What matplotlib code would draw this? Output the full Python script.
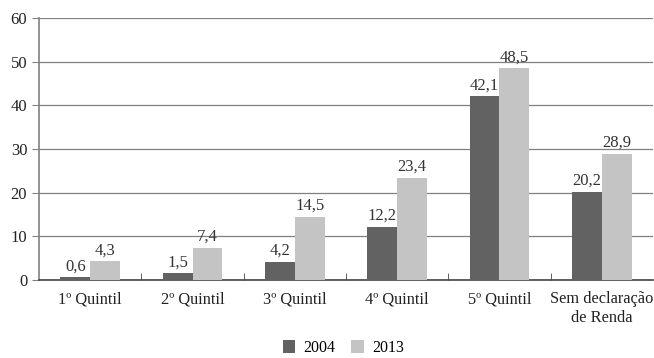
import matplotlib
matplotlib.use("Agg")
import matplotlib.pyplot as plt
import numpy as np

categories = ["1º Quintil", "2º Quintil", "3º Quintil", "4º Quintil", "5º Quintil", "Sem declaração\nde Renda"]
v2004 = [0.6, 1.5, 4.2, 12.2, 42.1, 20.2]
v2013 = [4.3, 7.4, 14.5, 23.4, 48.5, 28.9]
series_names = ["2004", "2013"]

plt.rcParams['font.family'] = ['Liberation Serif', 'DejaVu Serif']

fig = plt.figure(figsize=(6.54, 3.58), dpi=100)
ax = fig.add_axes([39/654, 1-280/358, 1-39/654-1/654, (280-18)/358])

x = np.arange(len(categories))
w = 0.29
c1, c2 = "#626262", "#c4c4c4"
b1 = ax.bar(x - w/2, v2004, w, color=c1, label=series_names[0], zorder=3)
b2 = ax.bar(x + w/2, v2013, w, color=c2, label=series_names[1], zorder=3)

def fmt(v):
    return f"{v:.1f}".replace(".", ",")

for bars, vals in ((b1, v2004), (b2, v2013)):
    for r, v in zip(bars, vals):
        ax.annotate(fmt(v), (r.get_x() + r.get_width()/2, v), xytext=(0, 2),
                    textcoords="offset points", ha="center", va="bottom",
                    fontsize=12, color="#333333")

ax.set_xlim(-0.5, len(categories) - 0.5)
ax.set_ylim(0, 60)
ax.set_yticks(range(0, 61, 10))
ax.yaxis.grid(True, color="#808080", linewidth=0.9, zorder=0)
ax.set_axisbelow(True)
ax.set_xticks(x)
ax.set_xticklabels(categories, fontsize=11.8, color="#222222")
ax.set_xticks(np.arange(0.5, len(categories) - 0.5, 1), minor=True)
ax.tick_params(axis="x", which="major", length=0, pad=8)
ax.tick_params(axis="x", which="minor", length=5, direction="in", color="#444444")
ax.tick_params(axis="y", length=5, color="#808080", labelsize=12, labelcolor="#222222")
for s in ["top", "right"]:
    ax.spines[s].set_visible(False)
ax.spines["left"].set_color("#808080")
ax.spines["bottom"].set_color("#444444")
ax.spines["left"].set_linewidth(1.2)
ax.spines["bottom"].set_linewidth(1.2)

fig.legend(handles=[b1, b2], labels=series_names, loc="center", bbox_to_anchor=(0.525, 1-348/358),
           ncol=2, frameon=False, fontsize=11.5, handlelength=0.8, handleheight=0.8,
           columnspacing=1.0, handletextpad=0.5)

fig.savefig("out.png", dpi=100)
